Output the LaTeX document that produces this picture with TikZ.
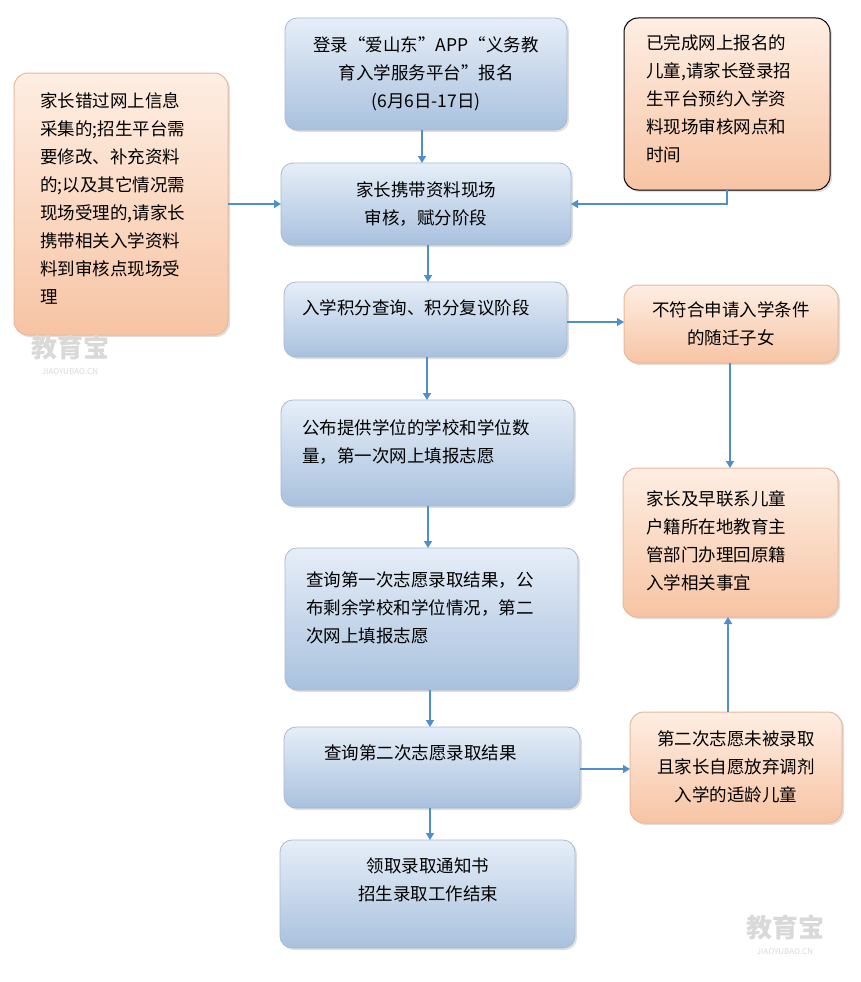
\documentclass[tikz,border=0pt]{standalone}
\usepackage{fontspec}
\setmainfont{Noto Sans CJK SC}
\usetikzlibrary{arrows.meta,shadows}
\definecolor{bt}{HTML}{E6EEF8}
\definecolor{bb}{HTML}{A9C1DE}
\definecolor{bd}{HTML}{A7B9CF}
\definecolor{pt}{HTML}{FEEEE3}
\definecolor{pb}{HTML}{F7C4A4}
\definecolor{pd}{HTML}{E8B89A}
\definecolor{ar}{HTML}{4F8FCF}
\tikzset{
 box/.style={rounded corners=12pt,top color=bt,bottom color=bb,draw=bd,line width=0.8pt,drop shadow={opacity=0.25,shadow xshift=2pt,shadow yshift=-2pt}},
 pbox/.style={rounded corners=14pt,top color=pt,bottom color=pb,draw=pd,line width=1pt,drop shadow={opacity=0.25,shadow xshift=2pt,shadow yshift=-2pt}},
 txt/.style={align=left,font=\fontsize{17.5pt}{28pt}\selectfont,inner sep=0pt},
 ctxt/.style={align=center,font=\fontsize{17.5pt}{28pt}\selectfont,inner sep=0pt},
 arr/.style={draw=ar,line width=1.6pt,-{Triangle[length=7pt,width=8pt]}},
 wm/.style={text=black!15,font=\bfseries}
}
\begin{document}
\begin{tikzpicture}[x=1pt,y=-1pt]
\useasboundingbox (0,0) rectangle (861,982);
% boxes
\path[box] (285,18) rectangle (567,130);
\node[ctxt] (n1) at (426,74) {登录“爱山东”APP“义务教\\育入学服务平台”报名\\(6月6日-17日)};
\path[box] (281,163) rectangle (571,245);
\node[ctxt] (n2) at (426,204) {家长携带资料现场\\审核，赋分阶段};
\path[box] (284,282) rectangle (567,357);
\node[txt,anchor=west] (n3) at (302,308) {入学积分查询、积分复议阶段};
\path[box] (281,400) rectangle (574,506);
\node[txt,anchor=west] (n4) at (302,442) {公布提供学位的学校和学位数\\量，第一次网上填报志愿};
\path[box] (285,548) rectangle (578,690);
\node[txt,anchor=west] (n5) at (306,608) {查询第一次志愿录取结果，公\\布剩余学校和学位情况，第二\\次网上填报志愿};
\path[box] (284,727) rectangle (580,808);
\node[txt,anchor=west] (n6) at (324,753) {查询第二次志愿录取结果};
\path[box] (280,840) rectangle (575,948);
\node[ctxt] (n7) at (428,880) {领取录取通知书\\招生录取工作结束};
\path[pbox] (14,73) rectangle (228,335);
\node[txt,anchor=north west] (l) at (40,92) {家长错过网上信息\\采集的;招生平台需\\要修改、补充资料\\的;以及其它情况需\\现场受理的,请家长\\携带相关入学资料\\料到审核点现场受\\理};
\path[pbox,draw=black] (624,18) rectangle (830,190);
\node[txt,anchor=north west] (r1) at (646,34) {已完成网上报名的\\儿童,请家长登录招\\生平台预约入学资\\料现场审核网点和\\时间};
\path[pbox] (624,285) rectangle (838,363);
\node[ctxt] (r2) at (731,324) {不符合申请入学条件\\的随迁子女};
\path[pbox] (623,468) rectangle (838,617);
\node[txt,anchor=west] (r3) at (646,541) {家长及早联系儿童\\户籍所在地教育主\\管部门办理回原籍\\入学相关事宜};
\path[pbox] (630,712) rectangle (842,823);
\node[ctxt] (r4) at (736,767) {第二次志愿未被录取\\且家长自愿放弃调剂\\入学的适龄儿童};
% connector anchors
\coordinate (a1) at (422,130); \coordinate (b2t) at (422,163);
\coordinate (l2) at (228,204); \coordinate (b2l) at (281,204);
\coordinate (r1b) at (727,190); \coordinate (r1c) at (727,204); \coordinate (b2r) at (571,204);
\coordinate (b2b) at (428,245); \coordinate (b3t) at (428,282);
\coordinate (b3b) at (427,357); \coordinate (b4t) at (427,400);
\coordinate (b4b) at (428,506); \coordinate (b5t) at (428,548);
\coordinate (b5b) at (430,690); \coordinate (b6t) at (430,727);
\coordinate (b6b) at (430,808); \coordinate (b7t) at (430,840);
\coordinate (b3r) at (567,322); \coordinate (r2l) at (624,322);
\coordinate (r2b) at (730,363); \coordinate (r3t) at (730,468);
\coordinate (r4t) at (728,712); \coordinate (r3b) at (728,617);
\coordinate (b6r) at (580,769); \coordinate (r4l) at (630,769);
\draw[arr] (a1) -- (b2t);
\draw[arr] (l2) -- (b2l);
\draw[arr] (r1b) -- (r1c) -- (b2r);
\draw[arr] (b2b) -- (b3t);
\draw[arr] (b3b) -- (b4t);
\draw[arr] (b4b) -- (b5t);
\draw[arr] (b5b) -- (b6t);
\draw[arr] (b6b) -- (b7t);
\draw[arr] (b3r) -- (r2l);
\draw[arr] (r2b) -- (r3t);
\draw[arr] (r4t) -- (r3b);
\draw[arr] (b6r) -- (r4l);
% watermarks
\node[wm,font=\fontsize{26pt}{26pt}\selectfont\bfseries] (w1) at (70,347) {教育宝};
\node[wm,font=\fontsize{8pt}{8pt}\selectfont] (w1b) at (70,372) {JIAOYUBAO.CN};
\node[wm,font=\fontsize{26pt}{26pt}\selectfont\bfseries] (w2) at (785,927) {教育宝};
\node[wm,font=\fontsize{8pt}{8pt}\selectfont] (w2b) at (785,952) {JIAOYUBAO.CN};
\end{tikzpicture}
\end{document}
